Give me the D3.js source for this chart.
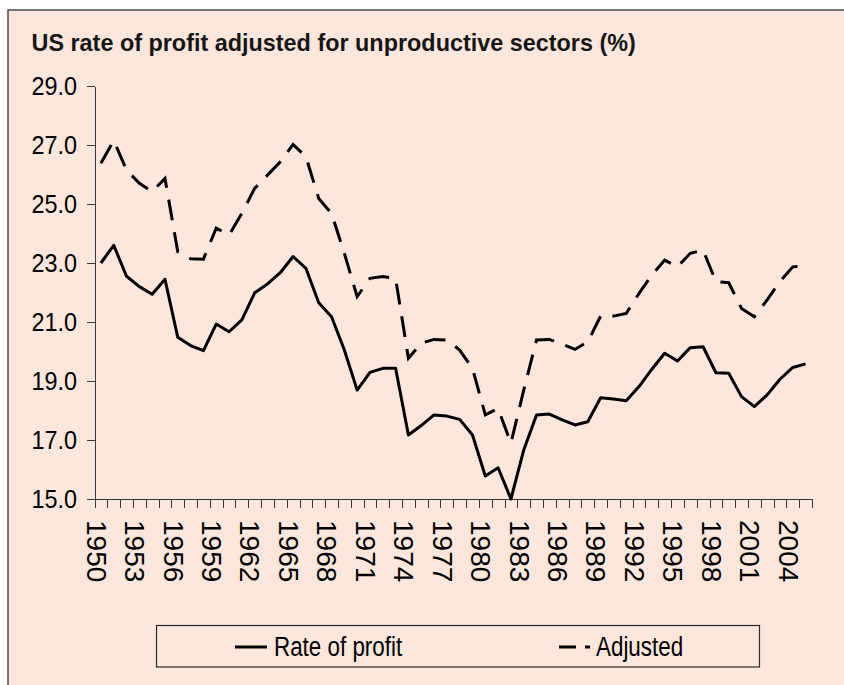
<!DOCTYPE html>
<html lang="en">
<head>
<meta charset="UTF-8">
<title>US rate of profit</title>
<script src="https://cdn.jsdelivr.net/npm/d3@7"></script>
<style>
  body { margin: 0; background: #fff; }
  svg text { font-family: "Liberation Sans", Arial, sans-serif; fill: #000; }
  .axis path, .axis line { stroke: #3a3a3a; stroke-width: 1px; shape-rendering: crispEdges; }
</style>
</head>
<body>
<svg id="chart" width="844" height="685"></svg>
<script>
// years on the category axis
var years = [1950, 1951, 1952, 1953, 1954, 1955, 1956, 1957, 1958, 1959,
             1960, 1961, 1962, 1963, 1964, 1965, 1966, 1967, 1968, 1969,
             1970, 1971, 1972, 1973, 1974, 1975, 1976, 1977, 1978, 1979,
             1980, 1981, 1982, 1983, 1984, 1985, 1986, 1987, 1988, 1989,
             1990, 1991, 1992, 1993, 1994, 1995, 1996, 1997, 1998, 1999,
             2000, 2001, 2002, 2003, 2004, 2005];

// rate of profit (%)
var rateOfProfit = [23.0, 23.6, 22.55, 22.2, 21.94, 22.45, 20.48, 20.2, 20.03, 20.93,
                    20.67, 21.07, 21.99, 22.29, 22.67, 23.22, 22.82, 21.65, 21.18, 20.05,
                    18.69, 19.29, 19.43, 19.43, 17.17, 17.49, 17.85, 17.81, 17.7, 17.17,
                    15.78, 16.06, 15.0, 16.66, 17.85, 17.88, 17.68, 17.51, 17.62, 18.43,
                    18.39, 18.33, 18.81, 19.4, 19.94, 19.68, 20.13, 20.16, 19.28, 19.26,
                    18.47, 18.13, 18.53, 19.06, 19.46, 19.58];

// adjusted for unproductive sectors (%)
var adjusted = [26.38, 27.15, 26.15, 25.7, 25.42, 25.87, 23.38, 23.14, 23.13, 24.18,
                23.95, 24.68, 25.53, 25.98, 26.43, 27.02, 26.6, 25.19, 24.68, 23.33,
                21.86, 22.48, 22.54, 22.48, 19.77, 20.28, 20.41, 20.39, 20.05, 19.43,
                17.85, 18.07, 16.89, 18.69, 20.39, 20.41, 20.25, 20.07, 20.33, 21.2,
                21.2, 21.29, 21.97, 22.59, 23.1, 22.87, 23.33, 23.44, 22.37, 22.33,
                21.46, 21.18, 21.75, 22.37, 22.87, 22.91];

var yTicks = [15, 17, 19, 21, 23, 25, 27, 29];
var seriesNames = ["Rate of profit", "Adjusted"];

var svg = d3.select("#chart");

// panel background with the visible top / left frame
svg.append("rect")
    .attr("x", 8).attr("y", 10)
    .attr("width", 850).attr("height", 690)
    .attr("fill", "#fde7dd")
    .attr("stroke", "#4a4a4a")
    .attr("stroke-width", 1.5);

svg.append("text")
    .attr("x", 31.5)
    .attr("y", 50.5)
    .style("font-size", "23.4px")
    .style("font-weight", "bold")
    .style("fill", "#161616")
    .text("US rate of profit adjusted for unproductive sectors (%)");

var plotLeft = 94.5, plotRight = 812, plotTop = 86, plotBottom = 499;

// x: category boundaries 0..56, points sit in the middle of each category
var x = d3.scaleLinear().domain([0, years.length]).range([plotLeft, plotRight]);
var y = d3.scaleLinear().domain([15, 29]).range([plotBottom, plotTop]);

var yAxis = svg.append("g")
    .attr("class", "axis")
    .attr("transform", "translate(" + plotLeft + ",0)")
    .call(d3.axisLeft(y).tickValues(yTicks).tickSize(8).tickSizeOuter(0).tickFormat(d3.format(".1f")));

yAxis.selectAll("text")
    .attr("x", null).attr("dy", null)
    .attr("text-anchor", "end")
    .attr("transform", "translate(-17.5,8) scale(0.9,1)")
    .style("font-size", "26px")
    .style("font-family", "'Liberation Sans', Arial, sans-serif");

var xAxis = svg.append("g")
    .attr("class", "axis")
    .attr("transform", "translate(0," + plotBottom + ")")
    .call(d3.axisBottom(x)
        .tickValues(d3.range(years.length + 1))
        .tickSize(9).tickSizeOuter(0)
        .tickFormat(function(i) { return (i < years.length && i % 3 === 0) ? years[i] : ""; }));

xAxis.selectAll("text")
    .attr("y", null).attr("dy", null)
    .attr("text-anchor", "start")
    .attr("transform", "translate(-8.3,21) rotate(90)")
    .style("font-size", "28px")
    .style("font-family", "'Liberation Sans', Arial, sans-serif");

var line = d3.line()
    .x(function(d, i) { return x(i + 0.5); })
    .y(function(d) { return y(d); });

svg.append("path")
    .datum(adjusted)
    .attr("d", line)
    .attr("fill", "none")
    .attr("stroke", "#000")
    .attr("stroke-width", 3)
    .attr("stroke-dasharray", "21,12");

svg.append("path")
    .datum(rateOfProfit)
    .attr("d", line)
    .attr("fill", "none")
    .attr("stroke", "#000")
    .attr("stroke-width", 3)
    .attr("stroke-linejoin", "round");

// legend
var legend = svg.append("g");
legend.append("rect")
    .attr("x", 156.5).attr("y", 625.5)
    .attr("width", 603).attr("height", 41.5)
    .attr("fill", "none")
    .attr("stroke", "#2a2a2a")
    .attr("stroke-width", 1.2);

legend.append("line")
    .attr("x1", 235).attr("x2", 267)
    .attr("y1", 647).attr("y2", 647)
    .attr("stroke", "#000").attr("stroke-width", 3);
legend.append("text")
    .attr("transform", "translate(274,656) scale(0.8,1)")
    .style("font-size", "28px")
    .text(seriesNames[0]);

legend.append("line")
    .attr("x1", 559).attr("x2", 591)
    .attr("y1", 647).attr("y2", 647)
    .attr("stroke", "#000").attr("stroke-width", 3)
    .attr("stroke-dasharray", "17,9,5,40");
legend.append("text")
    .attr("transform", "translate(596,656) scale(0.8,1)")
    .style("font-size", "28px")
    .text(seriesNames[1]);
</script>
</body>
</html>
